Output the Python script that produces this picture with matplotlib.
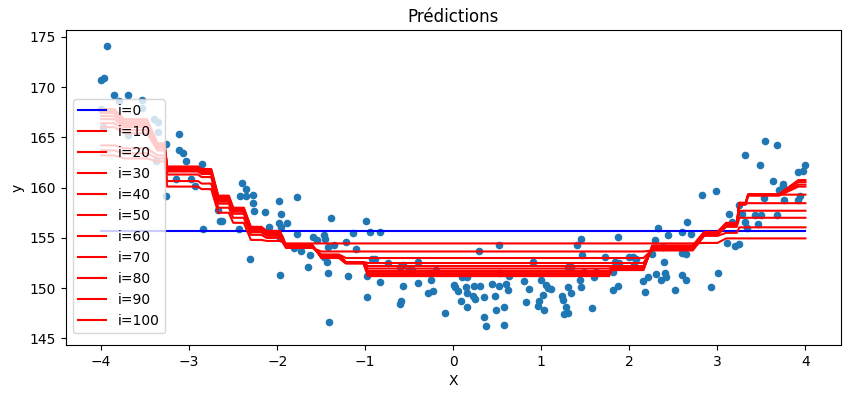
import numpy as np
import matplotlib
matplotlib.use("Agg")
from matplotlib import pyplot as plt

# nuage de points (X, y)
pts_x = [-3.93, -4.00, -3.97, -3.85, -3.69, -3.80, -3.54, -3.54, -4.00, -3.40,
         -3.36, -3.35, -3.98, -3.70, -3.12, -3.26, -3.12, -3.07, -3.04, -2.86,
         -3.38, -3.15, -2.98, -2.93, -3.26, -2.84,
         -2.40, -2.36, -2.42, -2.36, -2.28, -2.28, -1.98, -1.78, -2.67, -2.65,
         -2.63, -2.43, -2.26, -2.31, -2.14, -2.09, -1.96, -1.98, -1.89, -1.96,
         -1.97, -1.97, -1.77, -1.81, -1.73, -1.65, -1.63, -1.59, -1.55, -1.47,
         -1.46, -1.39, -1.42, -1.35, -1.47, -1.43, -1.42, -1.41, -1.22, -1.14,
         -1.10, -1.20, -0.99, -0.95, -0.83, -0.92, -0.89, -0.98, -0.98, -0.83,
         -0.74, -0.57, -0.61, -0.57, -0.61, -0.59, -0.40, -0.40, -0.50, -0.47,
         -0.28, -0.25, -0.20, -0.29, -0.23, -0.10,
         0.01, 0.02, 0.05, 0.09, 0.15, 0.10, 0.16, 0.14, 0.15, 0.22,
         0.25, 0.23, 0.30, 0.35, 0.35, 0.37, 0.44, 0.47, 0.49, 0.52,
         0.53, 0.52, 0.58, 0.58, 0.60, 0.62, 0.63, 0.29, 0.80, 0.83,
         0.86, 0.90, 0.96, 0.97, 1.02, 1.03, 1.00, 1.05, 1.07, 1.11,
         1.24, 1.25, 1.26, 1.28, 1.30, 1.30,
         1.45, 1.40, 1.46, 1.34, 1.44, 1.45, 1.34, 1.30, 1.57, 1.60,
         1.62, 1.49, 1.72, 1.87, 1.81, 1.87, 1.81, 1.84, 1.88, 2.00,
         2.04, 2.07, 2.05, 2.16, 2.21, 2.18, 2.26, 2.30, 2.29, 2.33,
         2.44, 2.38, 2.39, 2.36, 2.40, 2.42, 2.52, 2.60, 2.66, 2.60,
         2.60, 2.64,
         3.54, 3.68, 3.31, 3.48, 3.99, 3.97, 3.92, 3.63, 3.75, 3.70,
         3.74, 2.83, 2.98, 3.53, 3.76, 3.91, 3.94, 3.24, 3.13, 3.28,
         3.43, 3.49, 3.68, 3.17, 3.31, 3.46, 3.34, 2.70, 3.11, 3.20,
         3.24, 2.64, 3.01, 2.93]
pts_y = [174.05, 170.7, 170.9, 169.2, 169.2, 168.6, 168.7, 167.9, 167.8, 166.8,
         166.5, 165.5, 166.05, 165.2, 165.3, 164.3, 163.7, 163.4, 162.6, 162.3,
         162.6, 160.85, 160.85, 160.2, 159.2, 155.9,
         160.5, 159.9, 159.2, 159.2, 159.3, 158.5, 158.7, 159.1, 157.8, 156.7,
         156.7, 155.9, 157.7, 152.9, 157.55, 156.1, 157.4, 156.5, 156.5, 156.05,
         155.0, 151.3, 155.4, 154.0, 153.7, 152.1, 153.3, 155.05, 154.8, 155.3,
         154.9, 157.0, 154.1, 154.3, 153.1, 152.6, 151.5, 146.6, 154.6, 155.45,
         153.9, 151.2, 156.7, 155.55, 155.55, 152.9, 152.9, 149.1, 151.25, 150.6,
         152.5, 152.3, 152.1, 150.2, 148.4, 148.7, 152.6, 150.55, 151.8, 151.8,
         151.5, 150.8, 151.8, 149.5, 149.7, 147.5,
         150.3, 150.1, 149.7, 148.7, 148.1, 151.1, 151.1, 150.1, 149.5, 149.2,
         148.9, 150.2, 150.2, 149.1, 147.1, 146.2, 150.4, 149.2, 147.8, 154.3,
         151.5, 150.2, 148.1, 146.3, 150.4, 149.8, 151.2, 153.7, 150.7, 148.6,
         149.9, 152.6, 148.2, 148.7, 149.3, 147.8, 150.8, 150.3, 150.0, 149.9,
         149.2, 148.8, 147.4, 148.1, 150.1, 152.1,
         154.9, 154.3, 153.3, 152.1, 150.8, 150.1, 149.5, 147.5, 148.0, 151.1,
         151.6, 151.6, 153.1, 155.1, 149.8, 150.2, 151.6, 152.6, 152.5, 153.1,
         153.1, 152.9, 152.3, 150.7, 151.1, 149.6, 153.4, 151.4, 154.8, 156.0,
         155.3, 154.1, 152.6, 150.8, 151.5, 151.1, 149.8, 155.55, 156.6, 153.5,
         151.3, 150.8,
         164.6, 164.2, 163.2, 162.2, 162.2, 161.7, 161.6, 160.65, 160.4, 159.8,
         160.2, 159.3, 159.7, 159.0, 158.8, 158.8, 159.2, 158.3, 157.4, 157.4,
         157.3, 157.3, 157.3, 156.6, 156.6, 156.4, 155.95, 155.4, 154.5, 154.2,
         154.4, 153.4, 151.5, 150.1]

# prediction initiale (i=0) : la moyenne
pred_i0 = 155.7

# paliers des predictions (debut / fin de chaque palier en X)
seg_start = [-4.00, -3.74, -3.36, -3.25, -2.86, -2.67, -2.50, -2.30, -2.12, -1.90,
             -1.50, -1.22, -0.97, 1.80, 2.26, 2.85, 3.10, 3.25, 3.35, 3.92]
seg_end = [-3.85, -3.48, -3.28, -2.90, -2.75, -2.55, -2.38, -2.18, -1.97, -1.60,
           -1.30, -1.02, 1.77, 2.16, 2.72, 3.00, 3.22, 3.32, 3.70, 4.00]

pred_i10 = [163.2, 162.9, 162.6, 160.1, 159.85, 157.5, 156.5, 154.8, 154.7, 154.45,
            154.45, 154.45, 154.45, 154.45, 154.45, 154.5, 154.95, 154.95, 154.95, 154.95]
pred_i20 = [163.7, 163.4, 162.9, 160.65, 160.4, 158.0, 157.0, 155.3, 155.0, 154.0,
            153.65, 153.65, 153.65, 153.65, 153.75, 155.2, 155.5, 156.05, 156.05, 156.05]
pred_i30 = [164.2, 163.9, 163.2, 161.3, 161.05, 158.4, 157.4, 155.55, 155.2, 154.05,
            153.35, 153.0, 153.0, 153.0, 153.85, 155.3, 156.1, 157.0, 157.0, 157.0]
pred_i40 = [166.0, 165.4, 163.7, 161.6, 161.35, 158.6, 157.6, 155.7, 155.35, 154.1,
            153.3, 152.6, 152.5, 152.5, 153.95, 155.35, 156.2, 157.7, 157.7, 157.7]
pred_i50 = [166.4, 165.7, 163.9, 161.7, 161.45, 158.75, 157.7, 155.8, 155.45, 154.1,
            153.25, 152.6, 152.2, 152.2, 154.0, 155.4, 156.25, 158.4, 158.45, 158.45]
pred_i60 = [166.8, 166.0, 164.0, 161.8, 161.55, 158.85, 157.8, 155.85, 155.5, 154.15,
            153.2, 152.55, 151.95, 152.05, 154.05, 155.45, 156.3, 158.3, 159.3, 159.3]
pred_i70 = [167.1, 166.2, 164.1, 161.85, 161.6, 158.9, 157.85, 155.9, 155.55, 154.2,
            153.15, 152.55, 151.7, 151.95, 154.1, 155.5, 156.35, 158.35, 159.2, 160.1]
pred_i80 = [167.4, 166.4, 164.2, 161.9, 161.65, 159.0, 157.9, 155.95, 155.6, 154.2,
            153.1, 152.5, 151.5, 151.9, 154.15, 155.5, 156.4, 158.4, 159.25, 160.3]
pred_i90 = [167.6, 166.6, 164.3, 162.0, 161.75, 159.1, 157.95, 156.0, 155.65, 154.25,
            153.05, 152.5, 151.35, 151.85, 154.2, 155.55, 156.45, 158.45, 159.3, 160.55]
pred_i100 = [167.8, 166.8, 164.4, 162.1, 161.85, 159.2, 158.0, 156.1, 155.7, 154.3,
             153.0, 152.45, 151.2, 151.8, 154.25, 155.6, 156.5, 158.5, 159.35, 160.75]

iterations = [10, 20, 30, 40, 50, 60, 70, 80, 90, 100]
preds = [pred_i10, pred_i20, pred_i30, pred_i40, pred_i50,
         pred_i60, pred_i70, pred_i80, pred_i90, pred_i100]

fig = plt.figure(figsize=(8.5, 3.93), dpi=100)
ax = fig.add_axes([0.0776, 0.1221, 0.9114, 0.8016])

ax.scatter(pts_x, pts_y, s=20)
ax.plot([seg_start[0], seg_end[-1]], [pred_i0, pred_i0], color="blue", label="i=0")
for it, lev in zip(iterations, preds):
    xs, ys = [], []
    for x0, x1, v in zip(seg_start, seg_end, lev):
        xs += [x0, x1]
        ys += [v, v]
    ax.plot(xs, ys, color="red", label="i=%d" % it)

ax.set_xlim(-4.4, 4.4)
ax.set_ylim(144.35, 175.67)
ax.set_title("Prédictions")
ax.set_xlabel("X")
ax.set_ylabel("y")
ax.legend(loc="lower left", bbox_to_anchor=(0, 0.015))

fig.savefig("out.png")
